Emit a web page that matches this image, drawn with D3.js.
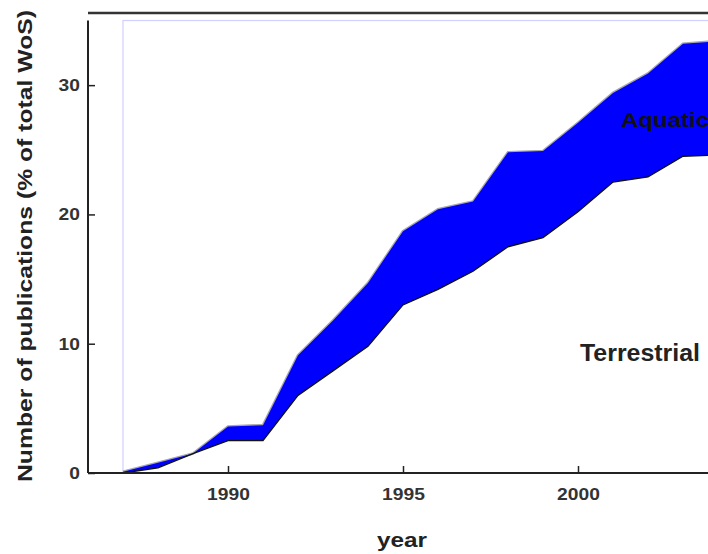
<!DOCTYPE html>
<html>
<head>
<meta charset="utf-8">
<script src="https://cdn.jsdelivr.net/npm/d3@7"></script>
<style>
  body { margin: 0; background: #fff; }
  svg { display: block; font-family: Arial, 'Liberation Sans', sans-serif; }
</style>
</head>
<body>
<div id="chart"></div>
<script>
// values
var years = [1987, 1988, 1989, 1990, 1991, 1992, 1993, 1994, 1995, 1996, 1997, 1998, 1999, 2000, 2001, 2002, 2003, 2004]
// lower edge of the band = terrestrial share
var terrestrial = [0.0, 0.4, 1.5, 2.5, 2.5, 6.0, 7.9, 9.8, 13.0, 14.2, 15.6, 17.5, 18.2, 20.2, 22.5, 22.9, 24.5, 24.6]
// upper edge of the band = terrestrial + aquatic
var combined = [0.1, 0.8, 1.5, 3.6, 3.7, 9.1, 11.8, 14.7, 18.7, 20.4, 21.0, 24.8, 24.9, 27.1, 29.4, 30.9, 33.2, 33.4]
var xTicks = [1990, 1995, 2000]
var yTicks = [0, 10, 20, 30]

function createChart() {
	let width = 708
	let height = 554

	const svg = d3.select('#chart').append('svg')
		.attr('width', width)
		.attr('height', height)

	var x = d3.scaleLinear().domain([1986, 2004]).range([88, 718])
	var y = d3.scaleLinear().domain([0, 35]).range([473, 20.5])

	var rows = years.map((yr, i) => ({ year: yr, lo: terrestrial[i], hi: combined[i] }))

	// light blue frame around the data range
	svg.append('rect')
		.attr('x', x(1987))
		.attr('y', y(35))
		.attr('width', x(2004) - x(1987) + 20)
		.attr('height', y(0) - y(35))
		.attr('fill', 'none')
		.attr('stroke', '#d0d0ff')
		.attr('stroke-width', 1.2)

	// top frame line
	svg.append('line')
		.attr('x1', 88).attr('x2', width)
		.attr('y1', 13).attr('y2', 13)
		.attr('stroke', '#333')
		.attr('stroke-width', 2.5)

	// grey halo on the upper edge
	svg.append('path')
		.datum(rows)
		.attr('fill', 'none')
		.attr('stroke', '#a8a8a8')
		.attr('stroke-width', 2.6)
		.attr('d', d3.line().x(d => x(d.year)).y(d => y(d.hi)))

	// the band
	svg.append('path')
		.datum(rows)
		.attr('fill', '#0000ff')
		.attr('d', d3.area()
			.x(d => x(d.year))
			.y0(d => y(d.lo))
			.y1(d => y(d.hi)))

	// dark lower edge
	svg.append('path')
		.datum(rows)
		.attr('fill', 'none')
		.attr('stroke', '#111')
		.attr('stroke-width', 1.3)
		.attr('d', d3.line().x(d => x(d.year)).y(d => y(d.lo)))

	// axes
	var xAxis = svg.append('g')
		.attr('transform', `translate(0,${y(0)})`)
		.call(d3.axisBottom(x).tickValues(xTicks).tickFormat(d3.format('d'))
			.tickSizeInner(-7).tickSizeOuter(0).tickPadding(15))

	var yAxis = svg.append('g')
		.attr('transform', `translate(88,0)`)
		.call(d3.axisLeft(y).tickValues(yTicks)
			.tickSizeInner(-7).tickSizeOuter(0).tickPadding(8))

	svg.selectAll('.domain')
		.attr('stroke', '#222')
		.attr('stroke-width', 2)
	xAxis.select('.domain').attr('d', `M${x(1986)},0H${width}`)
	yAxis.select('.domain').attr('d', `M0,${y(0)}V${y(35)}`)
	svg.selectAll('.tick line')
		.attr('stroke', '#222')
		.attr('stroke-width', 1.5)
	svg.selectAll('.tick text')
		.attr('font-family', 'Arial, Liberation Sans, sans-serif')
		.attr('font-size', 17)
		.attr('font-weight', 'bold')
		.attr('fill', '#333')
		.attr('textLength', function () { return this.textContent.length * 10.7 })
		.attr('lengthAdjust', 'spacingAndGlyphs')

	// axis titles
	svg.append('text')
		.attr('x', 402)
		.attr('y', 547)
		.attr('text-anchor', 'middle')
		.attr('font-size', 21)
		.attr('font-weight', 'bold')
		.attr('fill', '#222')
		.attr('textLength', 50)
		.attr('lengthAdjust', 'spacingAndGlyphs')
		.text('year')

	svg.append('text')
		.attr('transform', 'translate(32,246) rotate(-90)')
		.attr('text-anchor', 'middle')
		.attr('font-size', 21)
		.attr('font-weight', 'bold')
		.attr('fill', '#222')
		.attr('textLength', 472)
		.attr('lengthAdjust', 'spacingAndGlyphs')
		.text('Number of publications (% of total WoS)')

	// band labels
	svg.append('text')
		.attr('x', 621)
		.attr('y', 127)
		.attr('font-size', 20)
		.attr('font-weight', 'bold')
		.attr('fill', '#111')
		.attr('textLength', 88)
		.attr('lengthAdjust', 'spacingAndGlyphs')
		.text('Aquatic')

	svg.append('text')
		.attr('x', 580)
		.attr('y', 361)
		.attr('font-size', 23)
		.attr('font-weight', 'bold')
		.attr('fill', '#222')
		.attr('textLength', 120)
		.attr('lengthAdjust', 'spacingAndGlyphs')
		.text('Terrestrial')
}

createChart()
</script>
</body>
</html>
